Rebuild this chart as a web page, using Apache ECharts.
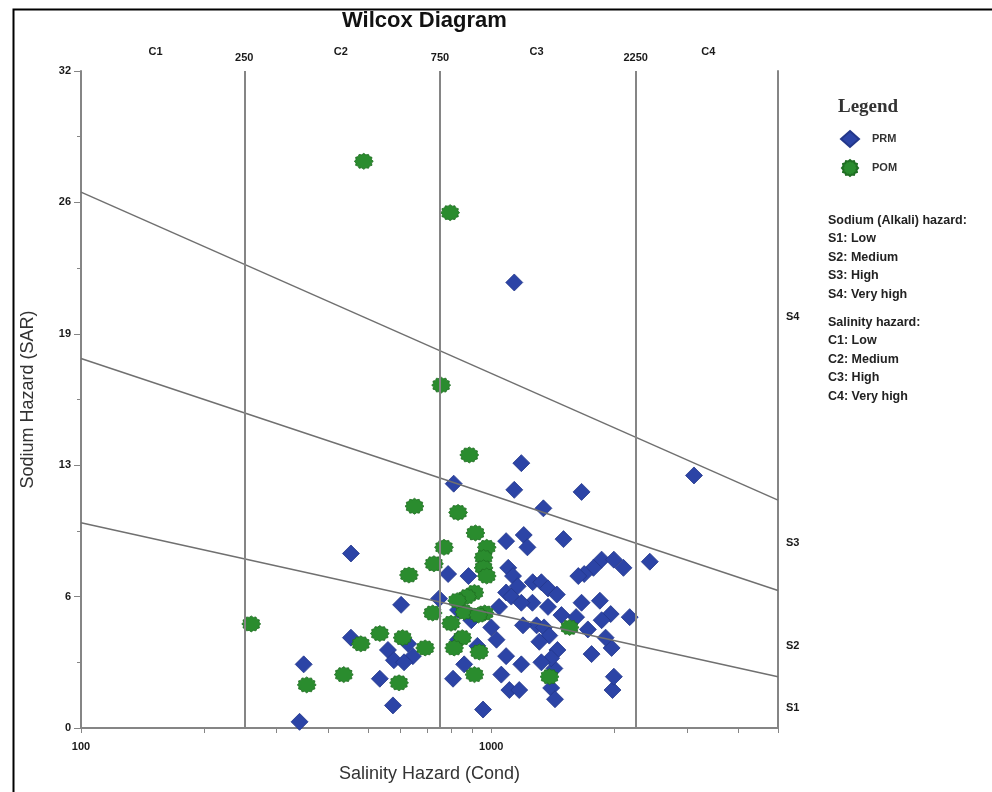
<!DOCTYPE html>
<html>
<head>
<meta charset="utf-8">
<title>Wilcox Diagram</title>
<script src="https://cdn.jsdelivr.net/npm/echarts@6/dist/echarts.min.js"></script>
<style>
  html, body { margin: 0; padding: 0; background: #fff; }
  #chart { width: 992px; height: 792px; }
</style>
</head>
<body>
<div id="chart"></div>
<script>
// PRM samples: [conductivity, SAR]
const prm = [
  [1138, 21.7], [1184, 12.9], [1138, 11.6], [1660, 11.5], [3120, 12.3], [810, 11.9],
  [1340, 10.7], [455, 8.5], [1200, 9.4], [1225, 8.8], [1087, 9.1], [1500, 9.2],
  [2435, 8.1], [1858, 8.2], [1990, 8.2], [2100, 7.8], [1775, 7.8], [1685, 7.5],
  [1630, 7.4], [1100, 7.8], [1130, 7.4], [1160, 6.9], [1262, 7.1], [1325, 7.1],
  [1375, 6.8], [1445, 6.5], [1087, 6.6], [1119, 6.4], [880, 7.4], [785, 7.5],
  [1260, 6.1], [1375, 5.9], [1660, 6.1], [1184, 6.1], [603, 6.0], [746, 6.3],
  [830, 5.75], [455, 4.4], [560, 3.8], [579, 3.3], [627, 4.1], [644, 3.5],
  [613, 3.2], [349, 3.1], [535, 2.4], [576, 1.1], [341, 0.3], [807, 2.4],
  [830, 4.3], [859, 3.1], [955, 0.9], [1107, 1.85], [1170, 1.85], [1400, 1.95],
  [1425, 2.9], [1975, 1.85], [1990, 2.5], [1965, 3.9], [1900, 4.4], [1840, 6.2],
  [1955, 5.55], [1858, 5.25], [2175, 5.4], [1610, 5.4], [1720, 4.8], [1290, 5.0],
  [1345, 4.9], [1385, 4.5], [1310, 4.2], [1450, 3.8], [1400, 3.4], [1325, 3.2],
  [1184, 3.1], [1087, 3.5], [1030, 4.3], [1000, 4.9], [1058, 2.6], [1430, 1.4],
  [1045, 5.9], [1195, 5.0], [1483, 5.5], [1756, 3.6], [925, 4.0], [894, 5.25]
]
// POM samples: [conductivity, SAR]
const pom = [
  [489, 27.6], [794, 25.1], [755, 16.7], [884, 13.3], [650, 10.8], [830, 10.5],
  [915, 9.5], [975, 8.8], [958, 8.3], [958, 7.8], [975, 7.4], [767, 8.8],
  [725, 8.0], [630, 7.45], [910, 6.6], [873, 6.4], [720, 5.6], [860, 5.65],
  [964, 5.6], [260, 5.07], [535, 4.6], [481, 4.1], [608, 4.4], [798, 5.1],
  [1552, 4.9], [850, 4.4], [812, 3.9], [690, 3.9], [935, 3.7], [437, 2.6],
  [355, 2.1], [596, 2.2], [910, 2.6], [1387, 2.5], [930, 5.5], [826, 6.2]
]

// salinity class limits and labels
const salinityLimits = [250, 750, 2250]
const salinityClasses = ['C1', 'C2', 'C3', 'C4']
const salinityClassPos = [152, 430, 1290, 3380]
// sodium class labels on the right
const sodiumClasses = ['S1', 'S2', 'S3', 'S4']
const sodiumClassPos = [1, 4, 9, 20]
// sodium boundary lines (SAR at cond 100 and 5000)
const boundaryCond = [100, 5000]
const boundaryS1S2 = [10, 2.5]
const boundaryS2S3 = [18, 6.7]
const boundaryS3S4 = [26.1, 11.1]
// axis ticks
const condLabels = [100, 1000]
const condMinorTicks = [100, 200, 300, 400, 500, 600, 700, 800, 900, 1000, 2000, 3000, 4000, 5000]

const legendNotes = [
  'Sodium (Alkali) hazard:', 'S1: Low', 'S2: Medium', 'S3: High', 'S4: Very high',
  'Salinity hazard:', 'C1: Low', 'C2: Medium', 'C3: High', 'C4: Very high'
]

// 绿色的齿轮形标记
function gearPath () {
  const pts = []
  const n = 12
  for (let i = 0; i < n * 2; i++) {
    const a = Math.PI * i / n
    const r = i % 2 ? 0.84 : 1
    pts.push((Math.cos(a) * r * 10 + 10).toFixed(2) + ' ' + (Math.sin(a) * r * 10 + 10).toFixed(2))
  }
  return 'path://M' + pts.join(' L') + ' Z'
}

const axisGray = '#858585'
const lineGray = '#707070'
const tickFont = { fontFamily: 'Liberation Sans, Arial', fontWeight: 'bold', fontSize: 11, color: '#1a1a1a' }

function boundary (vals) {
  return boundaryCond.map((c, i) => [c, vals[i]])
}

const chart = echarts.init(document.getElementById('chart'))
chart.setOption({
  animation: false,
  backgroundColor: '#fff',
  grid: { left: 81, top: 71, width: 697, height: 657, containLabel: false },
  legend: {
    data: ['PRM', 'POM'],
    orient: 'vertical',
    left: 835,
    top: 125,
    itemWidth: 18,
    itemHeight: 16,
    itemGap: 11,
    textStyle: { fontFamily: 'Liberation Sans, Arial', fontSize: 11, fontWeight: 'bold', color: '#333', padding: [0, 0, 0, 8] }
  },
  xAxis: [
    {
      type: 'log', logBase: 10, min: 100, max: 5000, position: 'bottom',
      name: 'Salinity Hazard (Cond)', nameLocation: 'middle', nameGap: 37,
      nameTextStyle: { fontFamily: 'Liberation Sans, Arial', fontSize: 18, color: '#333' },
      axisLine: { show: true, lineStyle: { color: axisGray, width: 2 } },
      axisTick: { show: true, customValues: condMinorTicks, length: 5, lineStyle: { color: axisGray } },
      axisLabel: Object.assign({ customValues: condLabels, margin: 13, formatter: v => String(v) }, tickFont),
      splitLine: { show: false }, minorTick: { show: false }
    },
    {
      type: 'log', logBase: 10, min: 100, max: 5000, position: 'top',
      axisLine: { show: true, lineStyle: { color: axisGray, width: 2 } },
      axisTick: { show: false },
      axisLabel: Object.assign({ customValues: salinityLimits, margin: 8, formatter: v => String(v) }, tickFont),
      splitLine: { show: false }
    },
    {
      type: 'log', logBase: 10, min: 100, max: 5000, position: 'top',
      axisLine: { show: false },
      axisTick: { show: false },
      axisLabel: Object.assign({
        customValues: salinityClassPos, margin: 14,
        formatter: v => salinityClasses[salinityClassPos.indexOf(v)] || ''
      }, tickFont),
      splitLine: { show: false }
    }
  ],
  yAxis: [
    {
      type: 'value', min: 0, max: 32, interval: 6.4, position: 'left',
      name: 'Sodium Hazard (SAR)', nameLocation: 'middle', nameGap: 44,
      nameTextStyle: { fontFamily: 'Liberation Sans, Arial', fontSize: 18, color: '#333' },
      axisLine: { show: true, lineStyle: { color: axisGray, width: 2 } },
      axisTick: { show: true, length: 7, lineStyle: { color: axisGray } },
      minorTick: { show: true, splitNumber: 2, length: 4, lineStyle: { color: axisGray } },
      axisLabel: Object.assign({ margin: 10, formatter: v => String(Math.round(v)) }, tickFont),
      splitLine: { show: false }
    },
    {
      type: 'value', min: 0, max: 32, position: 'right',
      axisLine: { show: true, lineStyle: { color: axisGray, width: 2 } },
      axisTick: { show: false },
      axisLabel: Object.assign({
        customValues: sodiumClassPos, margin: 8,
        formatter: v => sodiumClasses[sodiumClassPos.indexOf(v)] || ''
      }, tickFont),
      splitLine: { show: false }
    }
  ],
  series: [
    {
      name: 'boundaries', type: 'line', xAxisIndex: 0, yAxisIndex: 0,
      data: boundary(boundaryS1S2), symbol: 'none', silent: true,
      lineStyle: { color: lineGray, width: 1.5 },
      markLine: {
        silent: true, symbol: 'none', label: { show: false },
        lineStyle: { color: axisGray, width: 2, type: 'solid' },
        data: salinityLimits.map(v => ({ xAxis: v }))
      }
    },
    {
      name: 'b2', type: 'line', data: boundary(boundaryS2S3), symbol: 'none', silent: true,
      lineStyle: { color: lineGray, width: 1.5 }
    },
    {
      name: 'b3', type: 'line', data: boundary(boundaryS3S4), symbol: 'none', silent: true,
      lineStyle: { color: lineGray, width: 1.5 }
    },
    {
      name: 'PRM', type: 'scatter', data: prm, symbol: 'diamond', symbolSize: [17, 17],
      itemStyle: { color: '#2c44a6', borderColor: '#23378a', borderWidth: 0.8, opacity: 1 }
    },
    {
      name: 'POM', type: 'scatter', data: pom, symbol: gearPath(), symbolSize: [19, 16],
      itemStyle: { color: '#2a8c2e', borderColor: '#1f6e22', borderWidth: 0.8, opacity: 1 }
    }
  ],
  graphic: [
    {
      type: 'rect', left: 11, top: 7, silent: true,
      shape: { width: 990, height: 800 },
      style: { fill: 'none', stroke: '#000', lineWidth: 2 }
    },
    {
      type: 'text', left: 342, top: 10,
      style: { text: 'Wilcox Diagram', font: 'bold 22px "Liberation Sans", Arial', fill: '#111' }
    },
    {
      type: 'text', left: 838, top: 98,
      style: { text: 'Legend', font: 'bold 19px "Liberation Serif", "DejaVu Serif", serif', fill: '#333' }
    },
    {
      type: 'text', left: 828, top: 211,
      style: {
        text: legendNotes.slice(0, 5).join('\n'),
        font: 'bold 12.5px "Liberation Sans", Arial', fill: '#222', lineHeight: 18.5
      }
    },
    {
      type: 'text', left: 828, top: 313,
      style: {
        text: legendNotes.slice(5).join('\n'),
        font: 'bold 12.5px "Liberation Sans", Arial', fill: '#222', lineHeight: 18.5
      }
    }
  ]
})
</script>
</body>
</html>
